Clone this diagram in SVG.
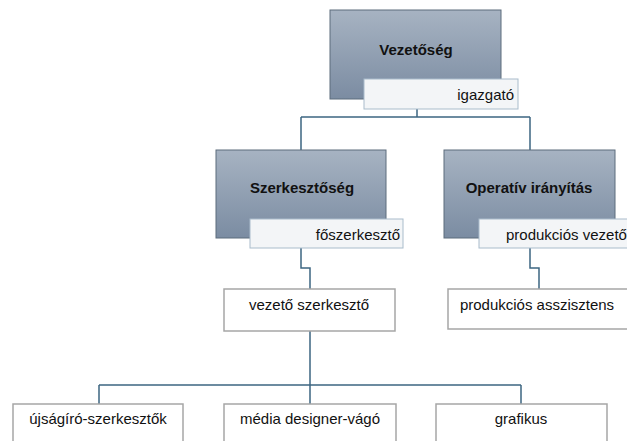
<svg xmlns="http://www.w3.org/2000/svg" width="627" height="441" viewBox="0 0 627 441">
<defs>
<linearGradient id="g" x1="0" y1="0" x2="0" y2="1">
<stop offset="0" stop-color="#a7b3c2"/>
<stop offset="1" stop-color="#7b8ca2"/>
</linearGradient>
<style>
.head{fill:url(#g);stroke:#5d6c7c;stroke-width:1}
.lab{fill:#f3f5f7;stroke:#a9bccb;stroke-width:1}
.box{fill:#ffffff;stroke:#a6a6a6;stroke-width:1.5}
.conn{fill:none;stroke:#3d6581;stroke-width:1.5}
text{font-family:"Liberation Sans",Arial,sans-serif;font-size:15px;fill:#111}
.b{font-weight:bold;text-anchor:middle}
.m{text-anchor:middle}
.r{text-anchor:end}
</style>
</defs>
<rect width="627" height="441" fill="#ffffff"/>
<g id="connectors">
<path class="conn" d="M417 109 V117 M301 117 H530 M301 117 V150 M530 117 V150"/>
<path class="conn" d="M301 248 V268 H310 V289"/>
<path class="conn" d="M530 248 V268 H539 V289"/>
<path class="conn" d="M310 331 V404 M99 385 H521 M99 385 V404 M521 385 V404"/>
</g>
<g id="vezetoseg">
<rect class="head" x="330" y="10" width="171" height="89"/>
<text class="b" x="416" y="55">Vezetőség</text>
<rect class="lab" x="364" y="79" width="154" height="30"/>
<text class="r" x="514" y="100">igazgató</text>
</g>
<g id="szerkesztoseg">
<rect class="head" x="216" y="150" width="170" height="88"/>
<text class="b" x="302" y="193">Szerkesztőség</text>
<rect class="lab" x="250" y="219" width="153" height="29"/>
<text class="r" x="400" y="240">főszerkesztő</text>
</g>
<g id="operativ">
<rect class="head" x="444" y="150" width="171" height="88"/>
<text class="b" x="529" y="193">Operatív irányítás</text>
<rect class="lab" x="479" y="219" width="160" height="29"/>
<text x="506" y="240">produkciós vezető</text>
</g>
<g id="vezeto-szerkeszto">
<rect class="box" x="224" y="289" width="171" height="42"/>
<text class="m" x="309" y="310">vezető szerkesztő</text>
</g>
<g id="produkcios-asszisztens">
<rect class="box" x="448" y="289" width="180" height="40"/>
<text class="m" x="537" y="310">produkciós asszisztens</text>
</g>
<g id="ujsagiro">
<rect class="box" x="13" y="404" width="170" height="45"/>
<text class="m" x="98" y="424">újságíró-szerkesztők</text>
</g>
<g id="media">
<rect class="box" x="224" y="404" width="172" height="45"/>
<text class="m" x="310" y="424">média designer-vágó</text>
</g>
<g id="grafikus">
<rect class="box" x="436" y="404" width="171" height="45"/>
<text class="m" x="521" y="424">grafikus</text>
</g>
</svg>
